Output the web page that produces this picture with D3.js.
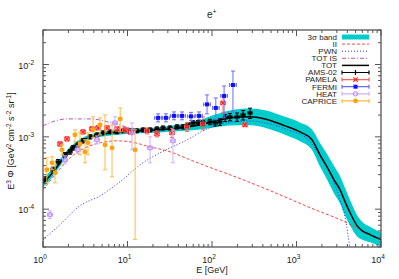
<!DOCTYPE html>
<html>
<head>
<meta charset="utf-8">
<title>e+ flux</title>
<script src="https://cdn.jsdelivr.net/npm/d3@7"></script>
<style>
 body { margin: 0; background: #fff; }
 text { font-family: "Liberation Sans", Arial, sans-serif; fill: #222; }
</style>
</head>
<body>
<script>

// ---- model curves (E in GeV, E^3 flux) ----
var eTot   = [1, 1.21, 1.59, 2.09, 2.74, 3.6, 5.42, 8.15, 14.1, 24.2, 41.8, 72.1, 109, 163, 282, 424, 731, 1100, 1525, 1897, 2296, 2780, 3273, 3750, 4300, 5200, 5960, 7410, 10000];
var tot    = [2.32e-4, 2.90e-4, 4.38e-4, 6.62e-4, 8.53e-4, 1.0e-3, 1.10e-3, 1.17e-3, 1.21e-3, 1.25e-3, 1.33e-3, 1.465e-3, 1.66e-3, 1.83e-3, 1.89e-3, 1.77e-3, 1.42e-3, 1.17e-3, 9.1e-4, 5.65e-4, 3.86e-4, 2.55e-4, 1.86e-4, 1.27e-4, 8.95e-5, 5.92e-5, 5.05e-5, 4.45e-5, 3.79e-5];
var bandLo = [2.02e-4, 2.54e-4, 3.91e-4, 6.02e-4, 7.83e-4, 9.26e-4, 1.02e-3, 1.08e-3, 1.12e-3, 1.15e-3, 1.20e-3, 1.26e-3, 1.36e-3, 1.44e-3, 1.45e-3, 1.34e-3, 1.07e-3, 8.67e-4, 6.59e-4, 3.90e-4, 2.57e-4, 1.65e-4, 1.20e-4, 8.19e-5, 5.97e-5, 4.23e-5, 3.80e-5, 3.48e-5, 3.03e-5];
var bandHi = [2.67e-4, 3.31e-4, 4.91e-4, 7.28e-4, 9.30e-4, 1.08e-3, 1.19e-3, 1.26e-3, 1.31e-3, 1.36e-3, 1.48e-3, 1.70e-3, 2.03e-3, 2.32e-3, 2.46e-3, 2.34e-3, 1.89e-3, 1.58e-3, 1.26e-3, 8.19e-4, 5.79e-4, 3.95e-4, 2.88e-4, 1.97e-4, 1.34e-4, 8.29e-5, 6.72e-5, 5.70e-5, 4.74e-5];

var eII = [1, 1.39, 2.09, 3.14, 4.73, 7.51, 10.7, 18.5, 31.8, 54.9, 72.1, 151, 306, 638, 1445, 3273, 5200];
var vII = [1.86e-4, 2.99e-4, 5.13e-4, 7.05e-4, 8.27e-4, 8.81e-4, 8.53e-4, 7.28e-4, 6.21e-4, 4.82e-4, 4.25e-4, 3.09e-4, 2.25e-4, 1.58e-4, 1.05e-4, 7.16e-5, 5.56e-5];

var ePWN = [1, 1.59, 2.74, 4.73, 8.15, 14.1, 24.2, 50.6, 82.6, 143, 282, 486, 838, 1262, 1656, 2173, 2704, 3273, 3750, 4064, 4300];
var vPWN = [3.79e-5, 6.11e-5, 1.12e-4, 1.53e-4, 2.39e-4, 4.11e-4, 6.01e-4, 9.09e-4, 1.249e-3, 1.56e-3, 1.66e-3, 1.51e-3, 1.21e-3, 1.0e-3, 7.05e-4, 4.11e-4, 2.55e-4, 1.35e-4, 7.88e-5, 4.45e-5, 2.76e-5];

var eTotIS = [1, 1.39, 1.92, 3.6, 6.56, 10.7, 18.5, 41.8, 72.1, 163, 282];
var vTotIS = [1.42e-3, 1.66e-3, 1.77e-3, 1.77e-3, 1.56e-3, 1.33e-3, 1.25e-3, 1.33e-3, 1.465e-3, 1.83e-3, 1.89e-3];

// ---- data sets ----
var amsE   = [1.06, 1.31, 1.51, 1.82, 2.09, 2.26, 2.59, 2.97, 3.6, 4.35, 5.13, 6.21, 7.51, 8.85, 10.7, 12.9, 15.3, 18.5, 22.3, 26.3, 31.8, 38.5, 45.4, 52.0, 59.6, 68.2, 78.2, 94.6, 109, 124, 143, 163, 198, 233, 282];
var amsV   = [2.55e-4, 3.51e-4, 4.52e-4, 5.65e-4, 6.21e-4, 7.05e-4, 7.76e-4, 8.81e-4, 1.0e-3, 1.066e-3, 1.135e-3, 1.172e-3, 1.172e-3, 1.21e-3, 1.21e-3, 1.21e-3, 1.249e-3, 1.249e-3, 1.29e-3, 1.33e-3, 1.33e-3, 1.374e-3, 1.374e-3, 1.465e-3, 1.56e-3, 1.56e-3, 1.56e-3, 1.61e-3, 1.56e-3, 1.61e-3, 1.83e-3, 1.886e-3, 1.886e-3, 2.01e-3, 2.14e-3];
var amsErr = [2.5e-5, 3.0e-5, 3.5e-5, 4.0e-5, 4.5e-5, 5.0e-5, 5.5e-5, 6.0e-5, 6.5e-5, 6.5e-5, 7e-5, 7e-5, 7e-5, 7e-5, 7e-5, 7e-5, 7.5e-5, 7.5e-5, 8e-5, 8e-5, 8.5e-5, 9e-5, 9e-5, 1.0e-4, 1.1e-4, 1.2e-4, 1.3e-4, 1.4e-4, 1.5e-4, 1.7e-4, 2.0e-4, 2.2e-4, 2.5e-4, 3.0e-4, 3.5e-4];

var pamE  = [1.59, 1.92, 2.97, 3.8, 4.48, 5.72, 7.51, 9.34, 10.7, 17.0, 22.3, 33.6, 50.6, 78.2, 135, 246];
var pamV  = [8.0e-4, 9.38e-4, 1.17e-3, 1.29e-3, 1.33e-3, 1.33e-3, 1.29e-3, 1.25e-3, 1.17e-3, 1.21e-3, 1.10e-3, 1.135e-3, 1.374e-3, 1.5e-3, 2.94e-3, 1.465e-3];
var pamLo = [7.4e-4, 8.7e-4, 1.09e-3, 1.2e-3, 1.24e-3, 1.24e-3, 1.2e-3, 1.16e-3, 1.08e-3, 1.1e-3, 1.0e-3, 0.98e-3, 1.19e-3, 1.25e-3, 2.14e-3, 1.38e-3];
var pamHi = [8.6e-4, 1.01e-3, 1.26e-3, 1.39e-3, 1.43e-3, 1.43e-3, 1.39e-3, 1.35e-3, 1.27e-3, 1.33e-3, 1.21e-3, 1.31e-3, 1.58e-3, 1.89e-3, 3.67e-3, 1.55e-3];

var fermiE  = [23.0, 28.5, 35.5, 44.2, 56.4, 70.2, 87.3, 111, 139, 177];
var fermiV  = [1.83e-3, 1.83e-3, 1.95e-3, 1.95e-3, 1.92e-3, 1.95e-3, 2.81e-3, 2.51e-3, 3.68e-3, 5.21e-3];
var fermiLo = [1.61e-3, 1.61e-3, 1.72e-3, 1.72e-3, 1.69e-3, 1.72e-3, 2.08e-3, 1.72e-3, 1.83e-3, 2.21e-3];
var fermiHi = [2.08e-3, 2.08e-3, 2.21e-3, 2.21e-3, 2.18e-3, 2.21e-3, 3.80e-3, 3.45e-3, 5.05e-3, 8.12e-3];

var heatE  = [1.21, 1.82, 2.59, 4.35, 7.11, 11.3, 18.5, 34.5];
var heatV  = [8.4e-5, 4.82e-4, 6.62e-4, 9.09e-4, 1.56e-3, 1.135e-3, 7.05e-4, 8.81e-4];
var heatLo = [7.4e-5, 4.24e-4, 5.83e-4, 8.0e-4, 1.29e-3, 6.62e-4, 4.38e-4, 4.38e-4];
var heatHi = [9.5e-5, 5.47e-4, 7.51e-4, 1.03e-3, 1.89e-3, 1.56e-3, 1.0e-3, 1.25e-3];

var capE  = [1.11, 1.28, 1.39, 1.68, 2.39, 2.74, 3.14, 3.41, 3.91, 4.73, 5.42, 6.56, 8.2, 12.3];
var capV  = [3.51e-4, 4.38e-4, 3.19e-4, 6.62e-4, 1.066e-3, 8.0e-4, 6.21e-4, 8.27e-4, 1.249e-3, 1.465e-3, 7.76e-4, 7.05e-4, 1.77e-3, 6.62e-4];
var capLo = [2.32e-4, 3.51e-4, 2.32e-4, 5.65e-4, 8.53e-4, 5.65e-4, 4.38e-4, 5.65e-4, 9.7e-4, 1.066e-3, 3.51e-4, 2.8e-4, 1.17e-3, 3.8e-5];
var capHi = [5.13e-4, 5.3e-4, 4.11e-4, 7.76e-4, 1.25e-3, 1.135e-3, 9.1e-4, 1.135e-3, 1.89e-3, 1.83e-3, 2.01e-3, 1.46e-3, 2.51e-3, 1.25e-3];

var legendNames = ["3\u03c3 band", "II", "PWN", "TOT IS", "TOT", "AMS-02", "PAMELA", "FERMI", "HEAT", "CAPRICE"];
var xTickLabels = ["0", "1", "2", "3", "4"];
var yTickLabels = ["-4", "-3", "-2"];

var w = 399, h = 279;
var L = 43, R = 381, T = 30, B = 247;

var svg = d3.select("body").append("svg")
    .attr("width", w)
    .attr("height", h);

var x = d3.scaleLog().domain([1, 1e4]).range([L, R]);
var y = d3.scaleLog().domain([3e-5, 3e-2]).range([B, T]);

svg.append("clipPath").attr("id", "clip")
   .append("rect").attr("x", L).attr("y", T).attr("width", R - L).attr("height", B - T);

var plot = svg.append("g").attr("clip-path", "url(#clip)");

// 3 sigma band
var idx = d3.range(eTot.length);
plot.append("path")
    .attr("d", d3.area()
        .x(function(i){ return x(eTot[i]); })
        .y0(function(i){ return y(bandLo[i]); })
        .y1(function(i){ return y(bandHi[i]); })
        .curve(d3.curveMonotoneX)(idx))
    .attr("fill", "#00cccc");

function curve(E, V, col, dash, sw) {
    var ii = d3.range(E.length);
    plot.append("path")
        .attr("d", d3.line()
            .x(function(i){ return x(E[i]); })
            .y(function(i){ return y(V[i]); })
            .curve(d3.curveMonotoneX)(ii))
        .attr("fill", "none")
        .attr("stroke", col)
        .attr("stroke-width", sw)
        .attr("stroke-dasharray", dash);
}

curve(eII, vII, "#ff3030", "3,2", 0.9);
curve(ePWN, vPWN, "#3030ff", "1,2", 1);
curve(eTotIS, vTotIS, "#b040c0", "4,2,1,2", 0.9);
curve(eTot, tot, "#000", null, 1.5);

// markers
function marker(g, kind, cx, cy, col) {
    if (kind == "plus") {
        g.append("path").attr("d", "M" + (cx-2.5) + "," + cy + "h5M" + cx + "," + (cy-2.5) + "v5")
         .attr("stroke", col).attr("stroke-width", 1.2);
    } else if (kind == "cross") {
        g.append("path").attr("d", "M" + (cx-2.2) + "," + (cy-2.2) + "l4.4,4.4M" + (cx-2.2) + "," + (cy+2.2) + "l4.4,-4.4")
         .attr("stroke", col).attr("stroke-width", 1.2);
    } else if (kind == "square") {
        g.append("rect").attr("x", cx-2).attr("y", cy-2).attr("width", 4).attr("height", 4).attr("fill", col);
    } else if (kind == "ocircle") {
        g.append("circle").attr("cx", cx).attr("cy", cy).attr("r", 2.2)
         .attr("fill", "none").attr("stroke", col).attr("stroke-width", 1);
    } else {
        g.append("circle").attr("cx", cx).attr("cy", cy).attr("r", 2.3).attr("fill", col);
    }
}

function dataset(E, V, lo, hi, dlog, col, barCol, kind) {
    var g = plot.append("g");
    for (var i = 0; i < E.length; i++) {
        var cx = x(E[i]), cy = y(V[i]);
        var y0 = y(lo[i]), y1 = y(hi[i]);
        var x0 = x(E[i] / Math.pow(10, dlog)), x1 = x(E[i] * Math.pow(10, dlog));
        var d = "M" + cx + "," + y0 + "V" + y1 +
                "M" + (cx-2) + "," + y0 + "h4M" + (cx-2) + "," + y1 + "h4" +
                "M" + x0 + "," + cy + "H" + x1 +
                "M" + x0 + "," + (cy-2) + "v4M" + x1 + "," + (cy-2) + "v4";
        g.append("path").attr("d", d).attr("fill", "none")
         .attr("stroke", barCol).attr("stroke-width", 1);
        marker(g, kind, cx, cy, col);
    }
}

var amsLo = amsV.map(function(v, i){ return v - amsErr[i]; });
var amsHi = amsV.map(function(v, i){ return v + amsErr[i]; });

dataset(amsE, amsV, amsLo, amsHi, 0.022, "#000", "#000", "plus");
dataset(pamE, pamV, pamLo, pamHi, 0.03, "#ff2020", "#ff6060", "cross");
dataset(fermiE, fermiV, fermiLo, fermiHi, 0.04, "#1010ff", "#6a6aff", "square");
dataset(heatE, heatV, heatLo, heatHi, 0.03, "#b880ff", "#d0b0ff", "ocircle");
dataset(capE, capV, capLo, capHi, 0.02, "#ffa010", "#ffbb40", "fcircle");

// frame and ticks
var ax = svg.append("g").attr("stroke", "#555").attr("stroke-width", 1);
ax.append("rect").attr("x", L).attr("y", T).attr("width", R - L).attr("height", B - T).attr("fill", "none")
  .attr("stroke-width", 1.3);

function isMajor(t) { return Math.abs(Math.log10(t) - Math.round(Math.log10(t))) < 1e-6; }

x.ticks().forEach(function(t){
    var len = isMajor(t) ? 6 : 3, px = x(t);
    ax.append("line").attr("x1", px).attr("x2", px).attr("y1", B).attr("y2", B - len);
    ax.append("line").attr("x1", px).attr("x2", px).attr("y1", T).attr("y2", T + len);
});
y.ticks().forEach(function(t){
    var len = isMajor(t) ? 6 : 3, py = y(t);
    ax.append("line").attr("y1", py).attr("y2", py).attr("x1", L).attr("x2", L + len);
    ax.append("line").attr("y1", py).attr("y2", py).attr("x1", R).attr("x2", R - len);
});

// tick labels
xTickLabels.forEach(function(s, i){
    var t = svg.append("text").attr("x", x(Math.pow(10, i)) - 3).attr("y", 263)
        .attr("text-anchor", "middle").attr("font-size", 9);
    t.append("tspan").text("10");
    t.append("tspan").attr("dy", -4).attr("font-size", 6.5).text(s);
});
yTickLabels.forEach(function(s){
    var t = svg.append("text").attr("x", 34).attr("y", y(Math.pow(10, +s)) + 4)
        .attr("text-anchor", "end").attr("font-size", 9);
    t.append("tspan").text("10");
    t.append("tspan").attr("dy", -4).attr("font-size", 6.5).text(s);
});

// title and axis labels
var ttl = svg.append("text").attr("x", 207).attr("y", 18).attr("font-size", 10);
ttl.append("tspan").text("e");
ttl.append("tspan").attr("dy", -4).attr("font-size", 7).text("+");

svg.append("text").attr("x", 212).attr("y", 273).attr("text-anchor", "middle")
   .attr("font-size", 9).text("E [GeV]");

var yl = svg.append("text").attr("transform", "translate(14,141) rotate(-90)")
   .attr("text-anchor", "middle").attr("font-size", 9);
yl.append("tspan").text("E");
yl.append("tspan").attr("dy", -3.5).attr("font-size", 6.5).text("3");
yl.append("tspan").attr("dy", 3.5).text(" \u03a6 [GeV");
yl.append("tspan").attr("dy", -3.5).attr("font-size", 6.5).text("2");
yl.append("tspan").attr("dy", 3.5).text(" cm");
yl.append("tspan").attr("dy", -3.5).attr("font-size", 6.5).text("-2");
yl.append("tspan").attr("dy", 3.5).text(" s");
yl.append("tspan").attr("dy", -3.5).attr("font-size", 6.5).text("-2");
yl.append("tspan").attr("dy", 3.5).text(" sr");
yl.append("tspan").attr("dy", -3.5).attr("font-size", 6.5).text("-1");
yl.append("tspan").attr("dy", 3.5).text("]");

// legend
var lg = svg.append("g");
var ly0 = 37, ldy = 7.1, lx0 = 342, lx1 = 369;
var legStyle = [
    {type: "band"},
    {type: "line", col: "#ff3030", dash: "3,2", sw: 0.9},
    {type: "line", col: "#3030ff", dash: "1,2", sw: 1},
    {type: "line", col: "#b040c0", dash: "4,2,1,2", sw: 0.9},
    {type: "line", col: "#000", dash: null, sw: 1.5},
    {type: "pt", col: "#000", bar: "#000", kind: "plus"},
    {type: "pt", col: "#ff2020", bar: "#ff6060", kind: "cross"},
    {type: "pt", col: "#1010ff", bar: "#6a6aff", kind: "square"},
    {type: "pt", col: "#b880ff", bar: "#d0b0ff", kind: "ocircle"},
    {type: "pt", col: "#ffa010", bar: "#ffbb40", kind: "fcircle"}
];
legendNames.forEach(function(name, i){
    var ly = ly0 + i * ldy, s = legStyle[i];
    lg.append("text").attr("x", 337).attr("y", ly + 2.8).attr("text-anchor", "end")
      .attr("font-size", 8).text(name);
    if (s.type == "band") {
        lg.append("rect").attr("x", lx0).attr("y", ly - 2.5).attr("width", lx1 - lx0).attr("height", 5)
          .attr("fill", "#00cccc");
    } else if (s.type == "line") {
        lg.append("line").attr("x1", lx0).attr("x2", lx1).attr("y1", ly).attr("y2", ly)
          .attr("stroke", s.col).attr("stroke-width", s.sw).attr("stroke-dasharray", s.dash);
    } else {
        lg.append("path").attr("d", "M" + lx0 + "," + ly + "H" + lx1 + "M" + lx0 + "," + (ly-2) + "v4M" + lx1 + "," + (ly-2) + "v4")
          .attr("stroke", s.bar).attr("stroke-width", 1.2).attr("fill", "none");
        marker(lg, s.kind, (lx0 + lx1) / 2, ly, s.col);
    }
});

</script>
</body>
</html>
